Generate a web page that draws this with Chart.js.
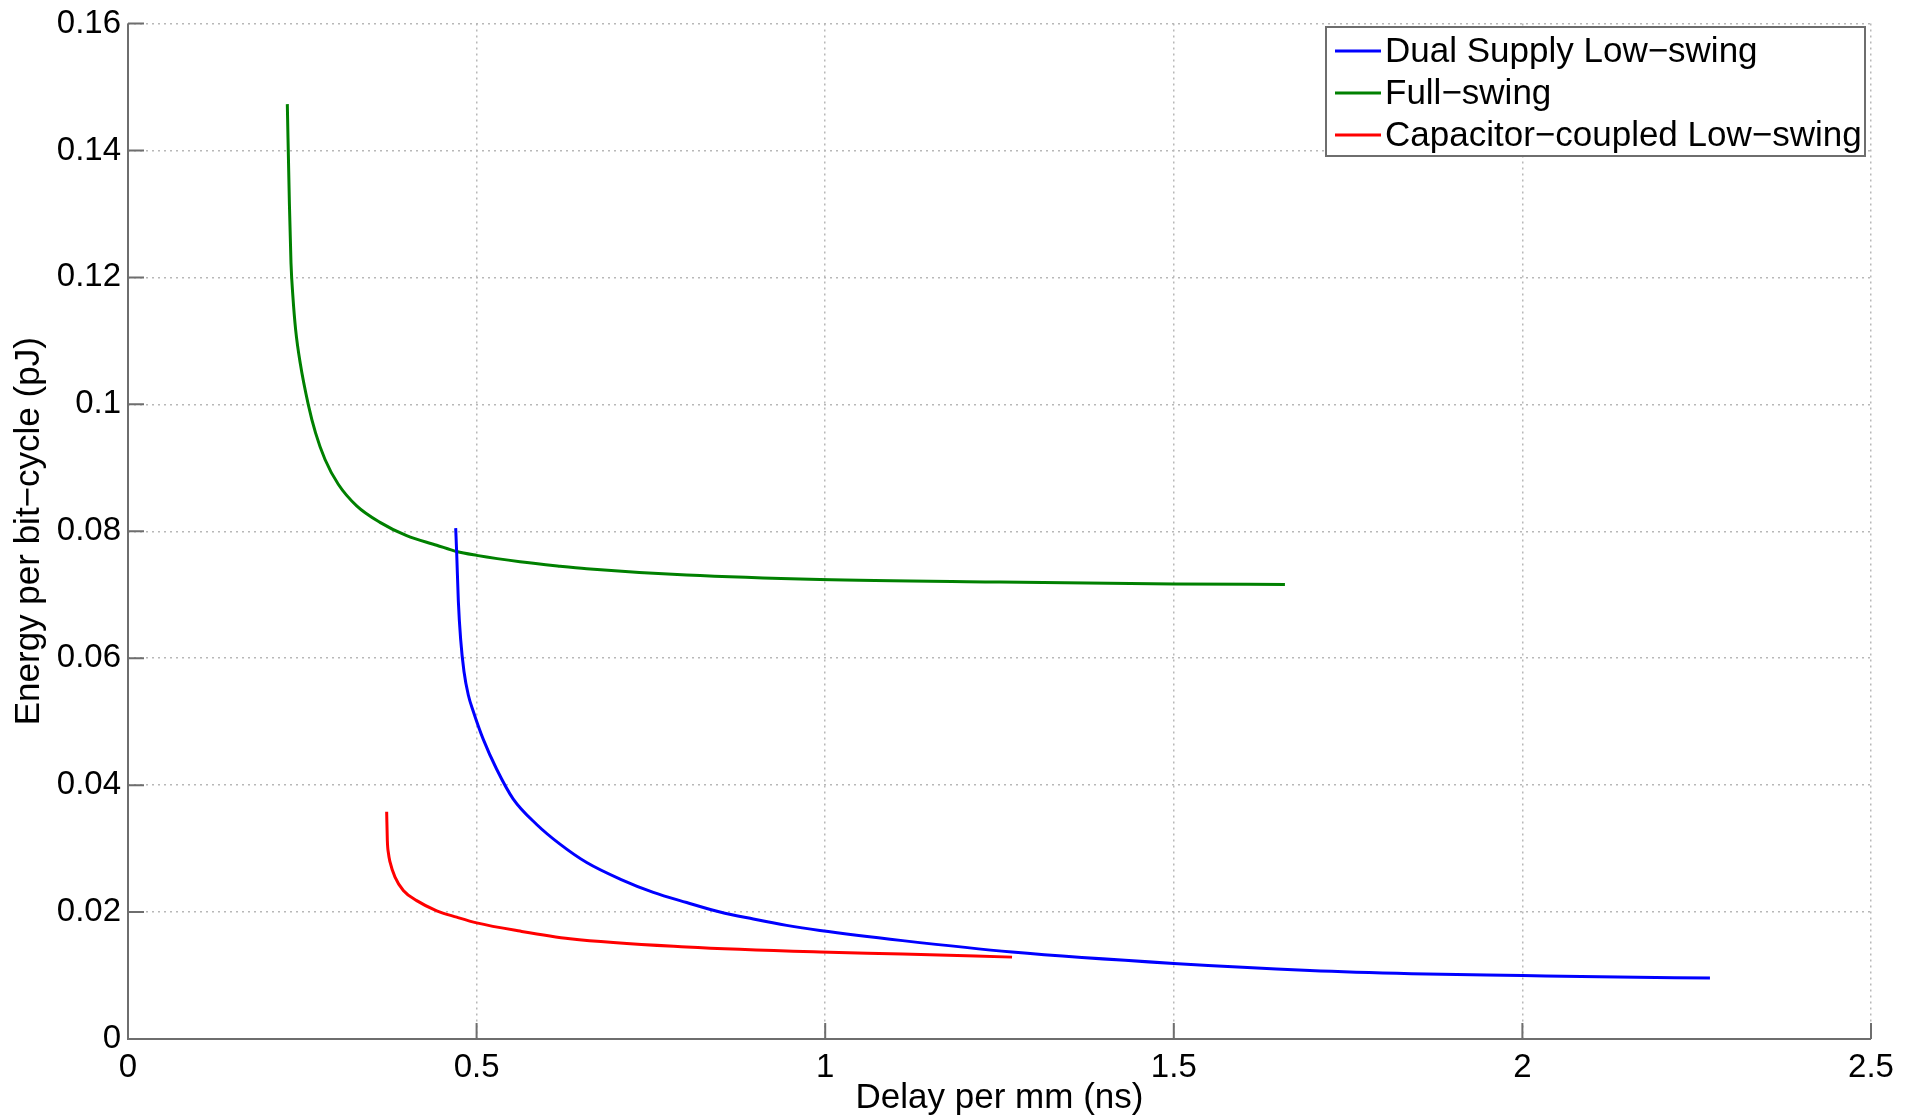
<!DOCTYPE html>
<html>
<head>
<meta charset="utf-8">
<title>Energy vs delay</title>
<script src="https://cdn.jsdelivr.net/npm/chart.js@4.4.1/dist/chart.umd.min.js"></script>
<style>
  html, body { margin: 0; padding: 0; background: #fff; }
  #wrap { width: 1919px; height: 1119px; }
</style>
</head>
<body>
<div id="wrap"><canvas id="chart" width="1919" height="1119"></canvas></div>
<script>
// valeurs (x en ns, y en pJ)
const dualX = [0.4700, 0.4714, 0.4738, 0.4771, 0.4819, 0.4881, 0.4953, 0.5096, 0.5288, 0.5526, 0.5862, 0.6196, 0.6579, 0.7057, 0.7535, 0.8013, 0.8491, 0.8969, 0.9447, 0.9925, 1.111, 1.268, 1.500, 1.695, 1.841, 2.000, 2.110, 2.269];
const dualY = [0.0805, 0.0767, 0.0690, 0.0630, 0.0579, 0.0542, 0.0516, 0.0472, 0.0425, 0.0378, 0.0338, 0.0307, 0.0278, 0.0252, 0.0231, 0.0215, 0.0200, 0.0189, 0.0179, 0.0171, 0.0155, 0.0137, 0.0119, 0.0108, 0.0103, 0.0100, 0.0098, 0.0096];

const fullX = [0.2285, 0.2315, 0.2338, 0.2365, 0.2405, 0.2470, 0.2585, 0.2690, 0.2826, 0.3016, 0.3280, 0.3614, 0.3997, 0.4428, 0.4714, 0.5001, 0.5622, 0.6196, 0.6579, 0.8013, 0.9925, 1.250, 1.500, 1.6594];
const fullY = [0.1473, 0.1316, 0.1222, 0.1170, 0.1117, 0.1065, 0.1000, 0.0955, 0.0913, 0.0874, 0.0840, 0.0814, 0.0793, 0.0778, 0.0768, 0.0762, 0.0752, 0.0745, 0.0741, 0.0731, 0.0724, 0.0720, 0.0717, 0.0716];

const capX = [0.3710, 0.3720, 0.3735, 0.3758, 0.3830, 0.3949, 0.4141, 0.4428, 0.4714, 0.5001, 0.5622, 0.6340, 0.8013, 0.9925, 1.111, 1.268];
const capY = [0.0358, 0.0312, 0.0293, 0.0279, 0.0255, 0.0234, 0.0218, 0.0202, 0.0192, 0.0183, 0.0170, 0.0158, 0.0145, 0.0137, 0.0134, 0.0129];

const seriesNames = ["Dual Supply Low\u2212swing", "Full\u2212swing", "Capacitor\u2212coupled Low\u2212swing"];
const seriesColors = ["#0000ff", "#008000", "#ff0000"];

const xTicks = [0, 0.5, 1, 1.5, 2, 2.5];
const yTicks = [0, 0.02, 0.04, 0.06, 0.08, 0.1, 0.12, 0.14, 0.16];

const xTitle = "Delay per mm (ns)";
const yTitle = "Energy per bit\u2212cycle (pJ)";

Chart.defaults.font.family = "'Liberation Sans', Arial, Helvetica, sans-serif";
Chart.defaults.color = "#000";

function toPoints(xs, ys) {
  return xs.map((x, i) => ({ x: x, y: ys[i] }));
}

function makeDataset(i, xs, ys) {
  return {
    label: seriesNames[i],
    data: toPoints(xs, ys),
    borderColor: seriesColors[i],
    backgroundColor: seriesColors[i],
    borderWidth: 3,
    pointRadius: 0,
    cubicInterpolationMode: "monotone",
    fill: false,
  };
}

// axes façon matlab : trait plein + petites graduations vers l'intérieur
const matlabAxes = {
  id: "matlabAxes",
  afterDraw(chart) {
    const ctx = chart.ctx;
    const area = chart.chartArea;
    const sx = chart.scales.x;
    const sy = chart.scales.y;
    ctx.save();
    ctx.strokeStyle = "#6e6e6e";
    ctx.lineWidth = 2;
    ctx.setLineDash([]);
    ctx.beginPath();
    ctx.moveTo(area.left, area.top);
    ctx.lineTo(area.left, area.bottom);
    ctx.lineTo(area.right, area.bottom);
    ctx.stroke();

    const len = 16;
    ctx.beginPath();
    for (const v of yTicks) {
      const py = sy.getPixelForValue(v);
      ctx.moveTo(area.left, py);
      ctx.lineTo(area.left + len, py);
    }
    for (const v of xTicks) {
      const px = sx.getPixelForValue(v);
      ctx.moveTo(px, area.bottom);
      ctx.lineTo(px, area.bottom - len);
    }
    ctx.stroke();
    ctx.restore();
  },
};

// légende encadrée en haut à droite
const boxLegend = {
  id: "boxLegend",
  afterDraw(chart) {
    const ctx = chart.ctx;
    const area = chart.chartArea;
    const box = { left: area.right - 545, top: 27, right: area.right - 6, bottom: 156 };
    ctx.save();
    ctx.fillStyle = "#fff";
    ctx.fillRect(box.left, box.top, box.right - box.left, box.bottom - box.top);
    ctx.strokeStyle = "#6e6e6e";
    ctx.lineWidth = 2;
    ctx.strokeRect(box.left, box.top, box.right - box.left, box.bottom - box.top);

    ctx.font = "35px 'Liberation Sans', Arial, sans-serif";
    ctx.textBaseline = "middle";
    ctx.textAlign = "left";
    chart.data.datasets.forEach((ds, i) => {
      const y = box.top + 24 + i * 42;
      ctx.strokeStyle = ds.borderColor;
      ctx.lineWidth = 3;
      ctx.beginPath();
      ctx.moveTo(box.left + 9, y);
      ctx.lineTo(box.left + 55, y);
      ctx.stroke();
      ctx.fillStyle = "#000";
      ctx.fillText(ds.label, box.left + 59, y + 1);
    });
    ctx.restore();
  },
};

const ctx = document.getElementById("chart").getContext("2d");

new Chart(ctx, {
  type: "line",
  data: {
    datasets: [
      makeDataset(0, dualX, dualY),
      makeDataset(1, fullX, fullY),
      makeDataset(2, capX, capY),
    ],
  },
  options: {
    responsive: false,
    animation: false,
    layout: { padding: { left: 0, right: 48, top: 19, bottom: 0 } },
    plugins: {
      legend: { display: false },
      tooltip: { enabled: false },
    },
    scales: {
      x: {
        type: "linear",
        min: 0,
        max: 2.5,
        afterBuildTicks: (s) => { s.ticks = xTicks.map((v) => ({ value: v })); },
        afterFit: (s) => { s.height = 80; },
        ticks: {
          callback: (v) => String(v),
          font: { size: 33, lineHeight: 1 },
          padding: 12,
          maxRotation: 0,
          autoSkip: false,
        },
        grid: { color: "#b8b8b8", lineWidth: 1.5, drawTicks: false },
        border: { display: false, dash: [2, 4] },
        title: {
          display: true,
          text: xTitle,
          font: { size: 35, lineHeight: 1.2 },
          padding: { top: 0, bottom: 0 },
        },
      },
      y: {
        type: "linear",
        min: 0,
        max: 0.16,
        afterBuildTicks: (s) => { s.ticks = yTicks.map((v) => ({ value: v })); },
        afterFit: (s) => { s.width = 128; },
        ticks: {
          callback: (v) => String(v),
          font: { size: 33, lineHeight: 1 },
          padding: 7,
          autoSkip: false,
        },
        grid: { color: "#b8b8b8", lineWidth: 1.5, drawTicks: false },
        border: { display: false, dash: [2, 4] },
        title: {
          display: true,
          text: yTitle,
          font: { size: 35, lineHeight: 1.2 },
          padding: { top: 8, bottom: 0 },
        },
      },
    },
  },
  plugins: [matlabAxes, boxLegend],
});
</script>
</body>
</html>
